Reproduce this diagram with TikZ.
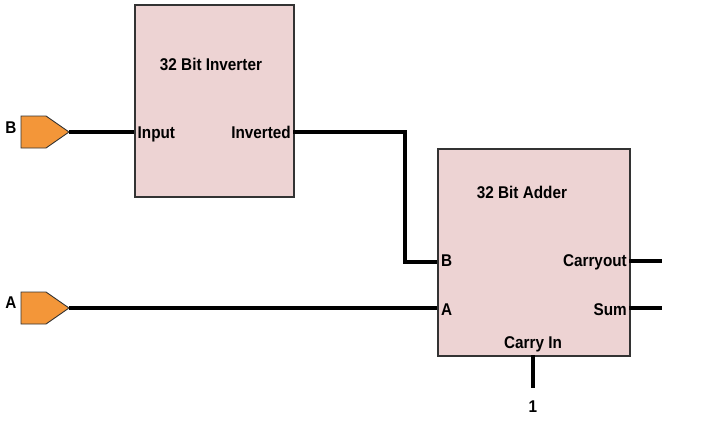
\documentclass[tikz,border=0pt]{standalone}
\usepackage{fontspec}
\setmainfont{Liberation Sans}[FakeStretch=0.9]
\begin{document}
\begin{tikzpicture}[x=1pt,y=-1pt,
  block/.style={draw=black!80,line width=1.5pt,fill=blockpink,inner sep=0,anchor=north west},
  wire/.style={line width=3.2pt},
  pin/.style={draw=black!80,line width=0.9pt,fill=pinorange},
  lbl/.style={font=\fontsize{17}{20}\selectfont\bfseries,inner sep=0}]
\definecolor{blockpink}{HTML}{EDD3D3}
\definecolor{pinorange}{HTML}{F39639}
\useasboundingbox (0,0) rectangle (713,440);
% blocks
\node[block,minimum width=159pt,minimum height=192pt] (inv) at (134,4) {};
\node[block,minimum width=192pt,minimum height=207pt] (add) at (437,148) {};
% titles and port labels
\node[lbl,anchor=base] (invtitle) at (211,70.5) {32 Bit Inverter};
\node[lbl,anchor=base west] (invin) at (137.5,138) {Input};
\node[lbl,anchor=base east] (invout) at (291,138) {Inverted};
\node[lbl,anchor=base] (addtitle) at (522,198) {32 Bit Adder};
\node[lbl,anchor=base west] (addb) at (441,266.5) {B};
\node[lbl,anchor=base west] (adda) at (441,315) {A};
\node[lbl,anchor=base east] (addco) at (627,266.5) {Carryout};
\node[lbl,anchor=base east] (addsum) at (627,315) {Sum};
\node[lbl,anchor=base] (addci) at (533,348) {Carry In};
% pins
\draw[pin] (21,116) -- (46,116) -- (69,132) -- (46,148) -- (21,148) -- cycle;
\draw[pin] (21,292) -- (46,292) -- (69,308) -- (46,324) -- (21,324) -- cycle;
\coordinate (bpin) at (69,132);
\coordinate (apin) at (69,308);
\node[lbl,anchor=base] (blabel) at (11,133) {B};
\node[lbl,anchor=base] (alabel) at (11,308) {A};
% port coordinates
\coordinate (invinP) at (134,132);
\coordinate (invoutP) at (293,132);
\coordinate (addbP) at (437,262);
\coordinate (addaP) at (437,308);
\coordinate (addcoP) at (629,261);
\coordinate (addsumP) at (629,308);
\coordinate (addciP) at (533,355);
\coordinate (coend) at (662,261);
\coordinate (sumend) at (662,308);
\coordinate (ciend) at (533,388);
\node[lbl,anchor=base] (one) at (533,412) {1};
% wires
\draw[wire] (bpin) -- (invinP);
\draw[wire] (invoutP) -- (405,132) -- (405,262) -- (addbP);
\draw[wire] (apin) -- (addaP);
\draw[wire] (addcoP) -- (coend);
\draw[wire] (addsumP) -- (sumend);
\draw[wire] (addciP) -- (ciend);
\end{tikzpicture}
\end{document}
